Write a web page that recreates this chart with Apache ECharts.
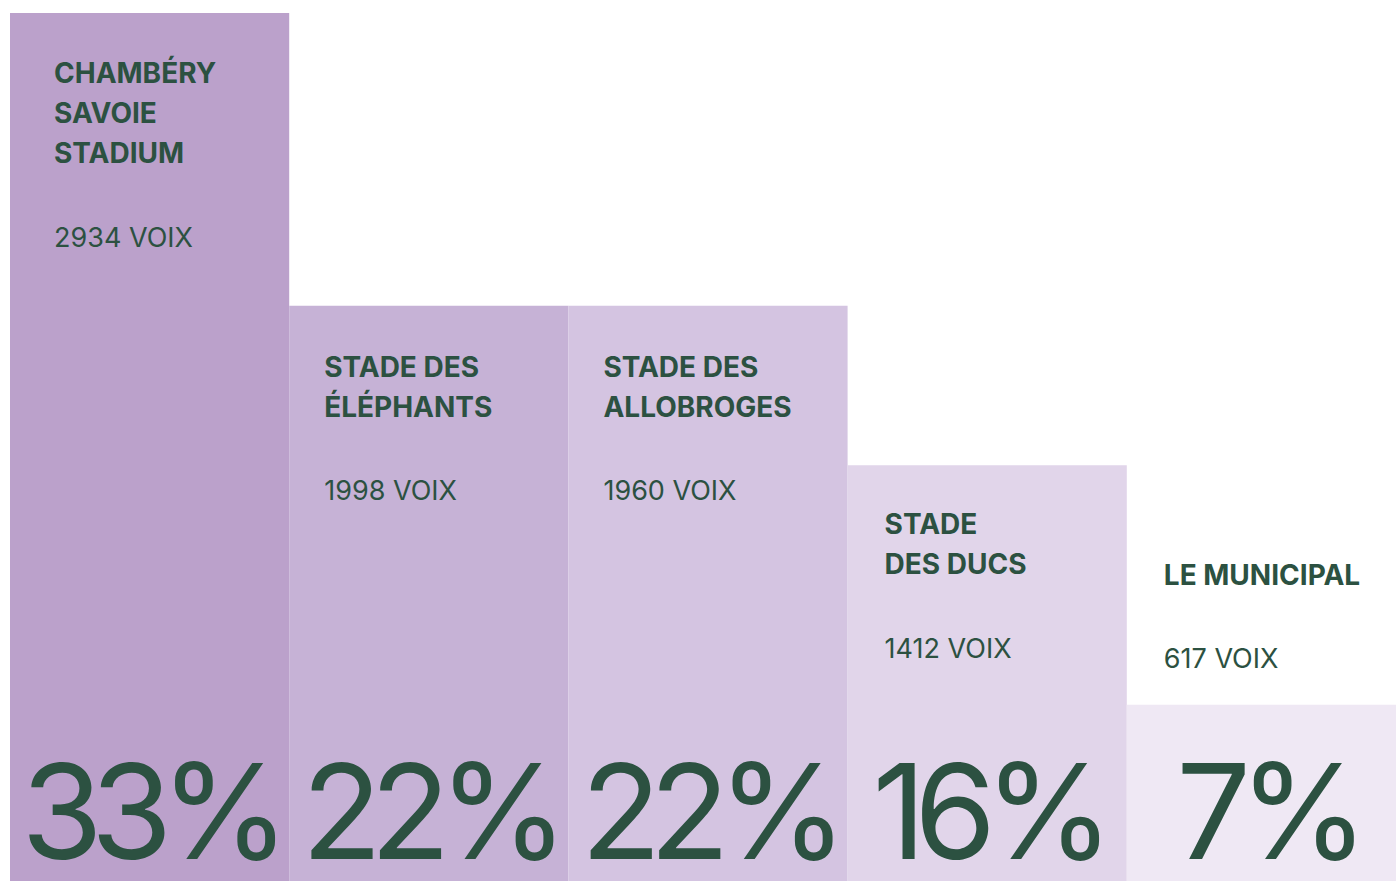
<!DOCTYPE html>
<html>
<head>
<meta charset="utf-8">
<script src="https://cdn.jsdelivr.net/npm/echarts@6/dist/echarts.min.js"></script>
<style>
    html, body { margin: 0; padding: 0; background: #fff; }
    #container { width: 1396px; height: 881px; }
    /* tighter tracking for the big percentages */
    #container text[style*="132px"] { letter-spacing: -12px; }
</style>
</head>
<body>
<div id="container"></div>
<script>
var names = ['CHAMBÉRY\nSAVOIE\nSTADIUM', 'STADE DES\nÉLÉPHANTS', 'STADE DES\nALLOBROGES', 'STADE\nDES DUCS', 'LE MUNICIPAL'];
var votes = [2934, 1998, 1960, 1412, 617];
var percents = [33, 22, 22, 16, 7];
var colors = ['#bba1cb', '#c6b2d6', '#d4c4e1', '#e1d5ea', '#efe8f4'];

printChart();

function printChart() {
    var dom = document.getElementById('container');
    var myChart = echarts.init(dom, null, { renderer: 'svg' });
    var textColor = '#2c5141';

    var barData = percents.map(function (p, i) {
        var pos = [35, 41];
        if (i === 0) pos = [44, 40];
        if (i === 3) pos = [37, 39];
        if (i === percents.length - 1) pos = [37, -150];
        return {
            value: p,
            itemStyle: { color: colors[i] },
            label: { position: pos }
        };
    });

    var option = {
        animation: false,
        grid: { left: 10, right: -10, top: 13, bottom: -10, outerBoundsMode: 'none', containLabel: false },
        xAxis: {
            type: 'category',
            data: names,
            show: false
        },
        yAxis: {
            type: 'value',
            min: 0,
            max: 33,
            show: false
        },
        series: [
            {
                type: 'bar',
                barCategoryGap: 0,
                barGap: '-100%',
                data: barData,
                label: {
                    show: true,
                    formatter: function (params) {
                        var lines = names[params.dataIndex].split('\n').map(function (l) {
                            return '{n|' + l + '}';
                        });
                        return lines.join('\n') + '\n{g| }\n{v|' + votes[params.dataIndex] + ' VOIX}';
                    },
                    rich: {
                        n: { fontFamily: 'Inter', fontWeight: 700, fontSize: 28, lineHeight: 40, color: textColor },
                        g: { fontSize: 10, lineHeight: 44 },
                        v: { fontFamily: 'Inter', fontWeight: 400, fontSize: 27, lineHeight: 40, color: textColor }
                    }
                }
            },
            {
                type: 'bar',
                barCategoryGap: 0,
                barGap: '-100%',
                data: percents,
                itemStyle: { color: 'rgba(0,0,0,0)' },
                label: {
                    show: true,
                    position: 'insideBottom',
                    distance: 10,
                    formatter: '{c}%',
                    fontFamily: 'Inter',
                    fontWeight: 400,
                    fontSize: 132,
                    lineHeight: 140,
                    color: textColor
                }
            }
        ]
    };
    myChart.setOption(option, true);
}
</script>
</body>
</html>
